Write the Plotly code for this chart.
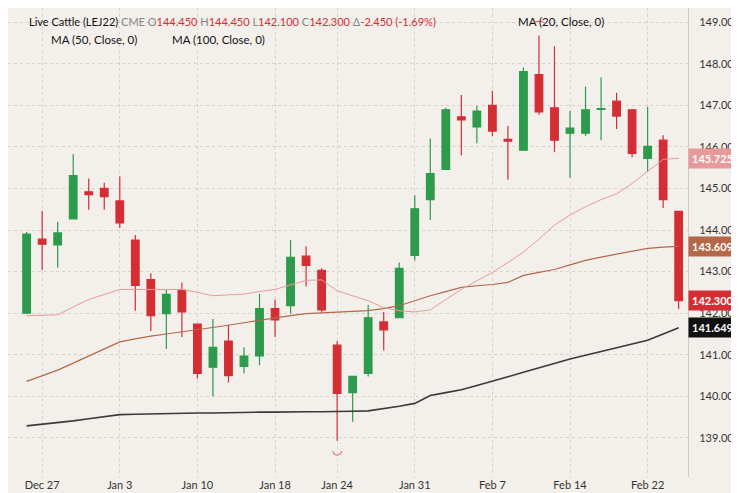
import plotly.graph_objects as go

dates = ["Dec 23","Dec 27","Dec 28","Dec 29","Dec 30","Dec 31",
         "Jan 3","Jan 4","Jan 5","Jan 6","Jan 7",
         "Jan 10","Jan 11","Jan 12","Jan 13","Jan 14",
         "Jan 18","Jan 19","Jan 20","Jan 21",
         "Jan 24","Jan 25","Jan 26","Jan 27","Jan 28",
         "Jan 31","Feb 1","Feb 2","Feb 3","Feb 4",
         "Feb 7","Feb 8","Feb 9","Feb 10","Feb 11",
         "Feb 14","Feb 15","Feb 16","Feb 17","Feb 18",
         "Feb 22","Feb 23","Feb 24"]
opens  = [142.00,143.78,143.64,144.27,144.92,145.00,144.70,143.76,142.81,141.99,142.55,
          141.74,140.70,141.33,140.72,140.97,142.11,142.18,143.37,143.03,141.23,140.09,
          140.55,141.79,141.89,143.39,144.73,145.46,146.72,146.48,147.00,146.18,145.92,
          147.74,146.94,146.33,146.33,146.90,147.10,146.89,145.72,146.16,144.45]
highs  = [143.95,144.46,144.20,145.82,145.24,145.14,145.29,143.88,142.96,142.57,142.74,
          141.75,141.86,141.72,141.18,142.47,142.33,143.76,143.61,143.08,141.33,140.48,
          142.20,142.03,143.22,144.83,146.20,146.94,147.25,146.99,147.35,146.50,147.91,
          148.68,148.42,146.86,147.45,147.67,147.30,146.89,146.96,146.28,144.45]
lows   = [142.00,143.03,143.10,144.27,144.49,144.49,144.05,142.06,141.57,141.14,141.43,
          140.43,140.00,140.33,140.55,140.75,141.43,141.99,142.64,142.01,138.93,139.39,
          140.48,141.10,141.89,143.27,144.24,145.46,145.80,146.09,146.26,145.21,145.92,
          146.77,145.87,145.26,146.26,146.16,146.43,145.75,145.41,144.53,142.10]
closes = [143.90,143.66,143.93,145.31,144.85,144.80,144.17,142.67,141.94,142.45,142.03,
          140.55,141.18,140.50,140.97,142.11,141.84,143.34,143.15,142.08,140.07,140.48,
          141.89,141.60,143.08,144.51,145.36,146.89,146.65,146.86,146.38,146.14,147.81,
          146.84,146.16,146.45,146.89,146.92,146.74,145.84,146.01,144.73,142.30]
ma20  = [141.94,141.95,141.96,142.15,142.33,142.45,142.57,142.57,142.57,142.57,142.57,
         142.50,142.42,142.44,142.46,142.52,142.57,142.68,142.79,142.80,142.54,142.42,
         142.30,142.13,142.06,142.03,142.08,142.33,142.57,142.78,142.98,143.22,143.47,
         143.78,144.12,144.36,144.56,144.73,144.87,145.12,145.41,145.70,145.725]
ma50  = [140.36,140.50,140.63,140.80,140.97,141.14,141.31,141.38,141.45,141.50,141.55,
         141.60,141.65,141.71,141.77,141.83,141.89,141.94,141.99,142.01,142.03,142.05,
         142.06,142.11,142.18,142.30,142.42,142.52,142.62,142.66,142.69,142.74,142.91,
         142.98,143.05,143.16,143.27,143.35,143.42,143.49,143.56,143.59,143.609]
ma100 = [139.29,139.33,139.36,139.41,139.46,139.51,139.56,139.57,139.58,139.59,139.60,
         139.60,139.60,139.61,139.61,139.62,139.62,139.63,139.63,139.63,139.63,139.64,
         139.65,139.70,139.76,139.83,140.02,140.09,140.16,140.26,140.36,140.47,140.58,
         140.69,140.80,140.90,140.99,141.08,141.17,141.26,141.35,141.50,141.649]
tick_dates = ["Dec 27","Jan 3","Jan 10","Jan 18","Jan 24","Jan 31","Feb 7","Feb 14","Feb 22"]

idx = list(range(len(dates)))
GREEN, RED = "#2e9a4c", "#d42e35"
C20, C50, C100 = "#e89a9a", "#b5674a", "#3a3a3a"
BG = "#f3f0eb"

fig = go.Figure()
fig.add_trace(go.Scatter(x=idx, y=ma100, mode="lines", line=dict(color=C100, width=1.6), hoverinfo="skip"))
fig.add_trace(go.Scatter(x=idx, y=ma50, mode="lines", line=dict(color=C50, width=1.2), hoverinfo="skip"))
fig.add_trace(go.Scatter(x=idx, y=ma20, mode="lines", line=dict(color=C20, width=1), hoverinfo="skip"))
fig.add_trace(go.Candlestick(x=idx, open=opens, high=highs, low=lows, close=closes,
    increasing=dict(line=dict(color=GREEN, width=1.2), fillcolor=GREEN),
    decreasing=dict(line=dict(color=RED, width=1.2), fillcolor=RED),
    whiskerwidth=0))

hi_i = max(idx, key=lambda i: highs[i]); lo_i = min(idx, key=lambda i: lows[i])
fig.add_annotation(x=hi_i, y=highs[hi_i], text="⌒", showarrow=False, yshift=9,
                   font=dict(size=14, color=RED))
fig.add_annotation(x=lo_i, y=lows[lo_i], text="◡", showarrow=False, yshift=-9,
                   font=dict(size=12, color=RED))

tickvals = [dates.index(d) for d in tick_dates]
fig.update_layout(
    width=739, height=493, margin=dict(l=0, r=59, t=0, b=24),
    paper_bgcolor=BG, plot_bgcolor=BG, showlegend=False,
    font=dict(family="Lato, Roboto, sans-serif", size=11, color="#333"),
    xaxis=dict(range=[-1.2, 42.6], tickvals=tickvals, ticktext=tick_dates,
               rangeslider=dict(visible=False), showgrid=True, gridcolor="#d6d2cc",
               griddash="dot", zeroline=False, ticks="", showline=False,
               tickfont=dict(size=11, color="#333")),
    yaxis=dict(side="right", range=[138.06, 149.34], dtick=1, tick0=139, tickformat=".3f",
               showgrid=True, gridcolor="#d6d2cc", griddash="dot", zeroline=False,
               showline=True, linecolor="#cfcac3", ticks="", ticklabelstandoff=8,
               tickfont=dict(size=11, color="#333")),
)

def fmt(v): return f"{v:.3f}"
header = ("<span style='color:#111'>Live Cattle (LEJ22)</span> <span style='color:#888'>CME</span> "
          f"<span style='color:#888'>O</span><span style='color:{RED}'>{fmt(opens[-1])}</span>"
          f"<span style='color:#888'> H</span><span style='color:{RED}'>{fmt(highs[-1])}</span>"
          f"<span style='color:#888'> L</span><span style='color:{RED}'>{fmt(lows[-1])}</span>"
          f"<span style='color:#888'> C</span><span style='color:{RED}'>{fmt(closes[-1])}</span>"
          f"<span style='color:#888'> Δ</span><span style='color:{RED}'>-2.450 (-1.69%)</span>")
fig.add_annotation(xref="paper", yref="paper", x=0.028, y=0.99, xanchor="left", yanchor="top",
                   text=header, showarrow=False, font=dict(size=11))
fig.add_annotation(xref="paper", yref="paper", x=0.747, y=0.99, xanchor="left", yanchor="top",
                   text="MA (20, Close, 0)", showarrow=False, font=dict(size=11.5, color="#111"))
fig.add_annotation(xref="paper", yref="paper", x=0.06, y=0.95, xanchor="left", yanchor="top",
                   text="MA (50, Close, 0)", showarrow=False, font=dict(size=11.5, color="#111"))
fig.add_annotation(xref="paper", yref="paper", x=0.238, y=0.95, xanchor="left", yanchor="top",
                   text="MA (100, Close, 0)", showarrow=False, font=dict(size=11.5, color="#111"))

for val, col in [(ma20[-1], C20), (ma50[-1], C50), (closes[-1], RED), (ma100[-1], "#111")]:
    fig.add_annotation(xref="paper", x=1.0, y=val, xanchor="left", text=f"<b>{fmt(val)}</b>",
                       showarrow=False, bgcolor=col, font=dict(color="white", size=11),
                       borderpad=3)

fig.write_html("out.html")
